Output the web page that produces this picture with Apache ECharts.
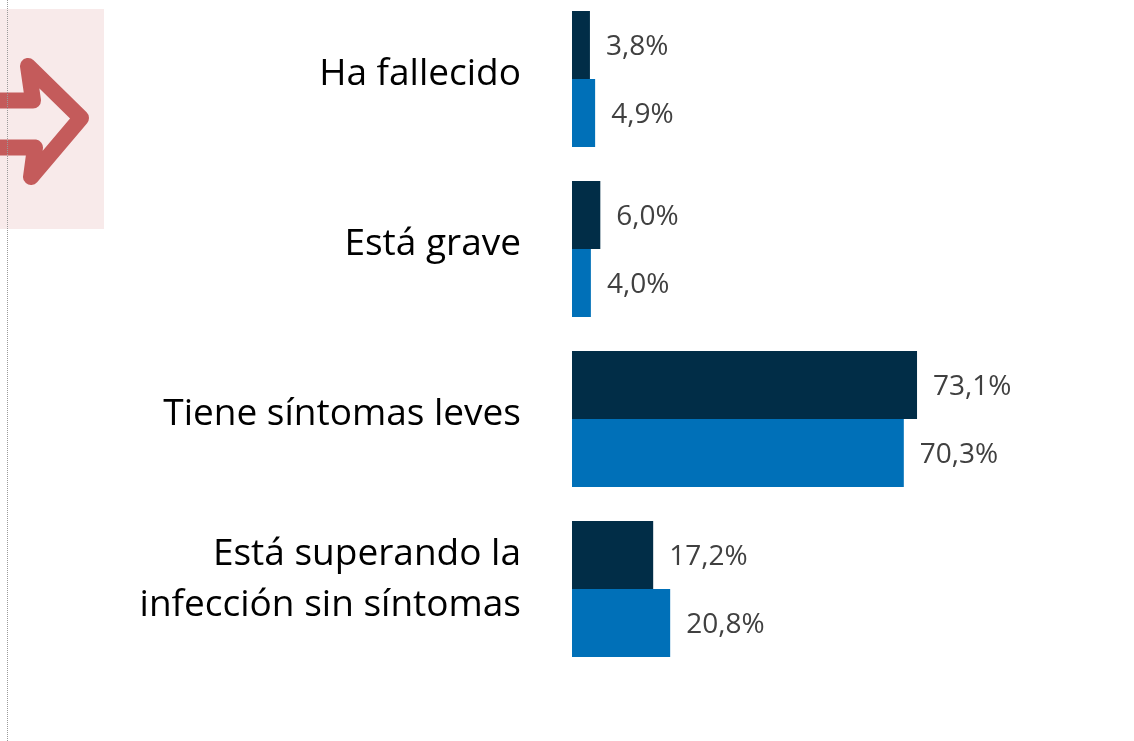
<!DOCTYPE html>
<html>
<head>
<meta charset="utf-8">
<script src="https://cdn.jsdelivr.net/npm/echarts@6/dist/echarts.min.js"></script>
<style>
html,body{margin:0;padding:0;background:#fff;overflow:hidden;}
#chart{width:1134px;height:747px;position:absolute;left:0;top:-6px;}
</style>
</head>
<body>
<div id="chart"></div>
<script>
const categories = ['Ha fallecido', 'Está grave', 'Tiene síntomas leves', 'Está superando la\ninfección sin síntomas'];
const seriesA = [3.8, 6.0, 73.1, 17.2];
const seriesB = [4.9, 4.0, 70.3, 20.8];

const chart = echarts.init(document.getElementById('chart'));
const labelFmt = p => p.value.toFixed(1).replace('.', ',') + '%';
const barLabel = {
  show: true, position: 'right', distance: 16, offset: [0, 2],
  formatter: labelFmt,
  fontFamily: 'Open Sans', fontSize: 28, color: '#404040'
};
const oy = 6;
const catFont = { fontFamily: 'Open Sans', fontSize: 37, color: '#000000', lineHeight: 51 };
chart.setOption({
  animation: false,
  backgroundColor: '#ffffff',
  grid: { left: 572, top: 0, width: 472, height: 680, containLabel: false },
  xAxis: { type: 'value', min: 0, max: 100, show: false },
  yAxis: {
    type: 'category', data: categories, inverse: true,
    axisLine: { show: false }, axisTick: { show: false }, splitLine: { show: false },
    axisLabel: {
      margin: 51, align: 'right',
      fontFamily: 'Open Sans', fontSize: 37, color: '#000000', lineHeight: 51,
      formatter: v => {
        const lines = v.split('\n');
        if (lines.length === 1) return '{s|' + v + '}';
        return '{b|' + lines[0] + '}\n{b|' + lines[1] + '}';
      },
      rich: {
        s: Object.assign({ padding: [0, 0, 9, 0] }, catFont),
        b: Object.assign({ padding: [0, 0, 19, 0] }, catFont)
      }
    }
  },
  series: [
    { type: 'bar', data: seriesA, barGap: '0%', barCategoryGap: '20%',
      itemStyle: { color: '#012D47' }, label: barLabel },
    { type: 'bar', data: seriesB, barGap: '0%', barCategoryGap: '20%',
      itemStyle: { color: '#0070B8' }, label: barLabel }
  ],
  graphic: [
    { type: 'rect', shape: { x: 0, y: 9 + oy, width: 104, height: 220 },
      style: { fill: '#F8EAEA' }, z: 1 },
    { type: 'polyline',
      shape: { points: [[-10, 100.5 + oy], [33, 100.5 + oy], [28, 66 + oy], [81, 118 + oy], [31, 177 + oy], [35, 147.5 + oy], [-10, 147.5 + oy]] },
      style: { stroke: '#C45B5B', lineWidth: 16, fill: null, lineJoin: 'round', lineCap: 'round' }, z: 2 },
    { type: 'line', shape: { x1: 7.5, y1: 0, x2: 7.5, y2: 747 },
      style: { stroke: '#9a9a9a', lineWidth: 1, lineDash: [1, 1] }, z: 3 }
  ]
});
</script>
</body>
</html>
